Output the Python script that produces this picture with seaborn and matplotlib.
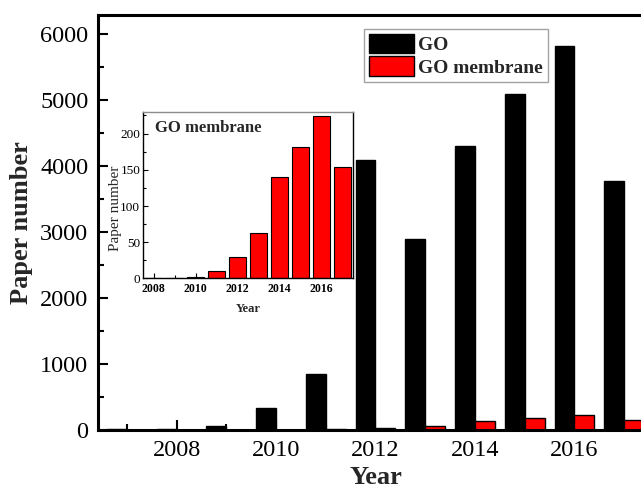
import matplotlib
matplotlib.use("Agg")
import matplotlib.pyplot as plt
from matplotlib.ticker import MultipleLocator, StrMethodFormatter
import numpy as np
import pandas as pd
import seaborn as sns

# Publication counts per year
years = [2007, 2008, 2009, 2010, 2011, 2012, 2013, 2014, 2015, 2016, 2017]
go_papers = [8, 20, 60, 340, 850, 4100, 2900, 4300, 5090, 5820, 3770]
membrane_papers = [0, 0, 0, 2, 11, 29, 63, 140, 181, 224, 154]
series_names = ["GO", "GO membrane"]

inset_years = [2008, 2009, 2010, 2011, 2012, 2013, 2014, 2015, 2016, 2017]
inset_papers = membrane_papers[1:]
inset_tick_labels = ["2008", "2010", "2012", "2014", "2016"]

sns.set_theme(style="white")
plt.rcParams["font.family"] = ["Liberation Serif", "DejaVu Serif"]

df = pd.DataFrame({
    "Year": years * 2,
    "Papers": go_papers + membrane_papers,
    "Series": [series_names[0]] * len(years) + [series_names[1]] * len(years),
})

fig = plt.figure(figsize=(6.41, 4.91), dpi=100)
ax = fig.add_axes([0.1529, 0.1242, 0.8658, 0.8452])

sns.barplot(data=df, x="Year", y="Papers", hue="Series", native_scale=True,
            palette=["#000000", "#ff0000"], saturation=1, width=0.8,
            edgecolor="black", linewidth=1.0, ax=ax)

ax.set_xlim(2006.42, 2017.58)
ax.set_ylim(0, 6290)
ax.xaxis.set_major_locator(MultipleLocator(2))
ax.xaxis.set_minor_locator(MultipleLocator(1))
ax.xaxis.set_major_formatter(StrMethodFormatter("{x:.0f}"))
ax.yaxis.set_major_locator(MultipleLocator(1000))
ax.yaxis.set_minor_locator(MultipleLocator(500))
ax.tick_params(which="both", direction="in", width=1.5, colors="black",
               bottom=True, left=True, top=False, right=False)
ax.tick_params(which="major", length=7, labelsize=17.5, pad=7)
ax.tick_params(which="minor", length=4)
for sp in ax.spines.values():
    sp.set_linewidth(2.2)
    sp.set_color("black")
ax.set_xlabel("Year", fontsize=19, fontweight="bold", labelpad=4)
ax.set_ylabel("Paper number", fontsize=19, fontweight="bold", labelpad=5)

handles, labels = ax.get_legend_handles_labels()
leg = ax.legend(handles, labels, loc="upper left", bbox_to_anchor=(0.4793, 0.9663),
                borderaxespad=0, fancybox=False, frameon=True, edgecolor="#8c8c8c",
                prop={"weight": "bold", "size": 14}, handlelength=2.3,
                handleheight=1.15, labelspacing=0.12, handletextpad=0.25,
                borderpad=0.25)
leg.get_frame().set_linewidth(1.0)

# Inset: GO membrane papers only
axin = fig.add_axes([0.2231, 0.4328, 0.3276, 0.3381])
axin.set_facecolor("white")
sns.barplot(x=inset_years, y=inset_papers, color="#ff0000", saturation=1,
            width=0.8, edgecolor="black", linewidth=0.8, ax=axin)
axin.set_xlim(-0.5, 9.5)
axin.set_ylim(0, 229)
axin.set_xticks([0, 2, 4, 6, 8])
axin.set_xticklabels(inset_tick_labels, fontweight="bold")
axin.set_xticks(np.arange(10), minor=True)
axin.yaxis.set_major_locator(MultipleLocator(50))
axin.yaxis.set_minor_locator(MultipleLocator(25))
axin.tick_params(which="both", direction="in", width=0.8, colors="black",
                 bottom=True, left=True, top=False, right=False)
axin.tick_params(which="major", length=3.5, labelsize=8.5, pad=3)
axin.tick_params(axis="y", which="major", labelsize=9.5, pad=2)
axin.tick_params(which="minor", length=2)
for sp in axin.spines.values():
    sp.set_linewidth(1.0)
    sp.set_color("black")
axin.spines["top"].set_color("#8c8c8c")
axin.set_xlabel("Year", fontsize=9, fontweight="bold", labelpad=6)
axin.set_ylabel("Paper number", fontsize=11, labelpad=0)
axin.yaxis.set_label_coords(-0.10, 0.425)
axin.text(0.057, 0.907, "GO membrane", transform=axin.transAxes,
          fontsize=12, fontweight="bold", va="center", ha="left")

fig.savefig("out.png", dpi=100)
